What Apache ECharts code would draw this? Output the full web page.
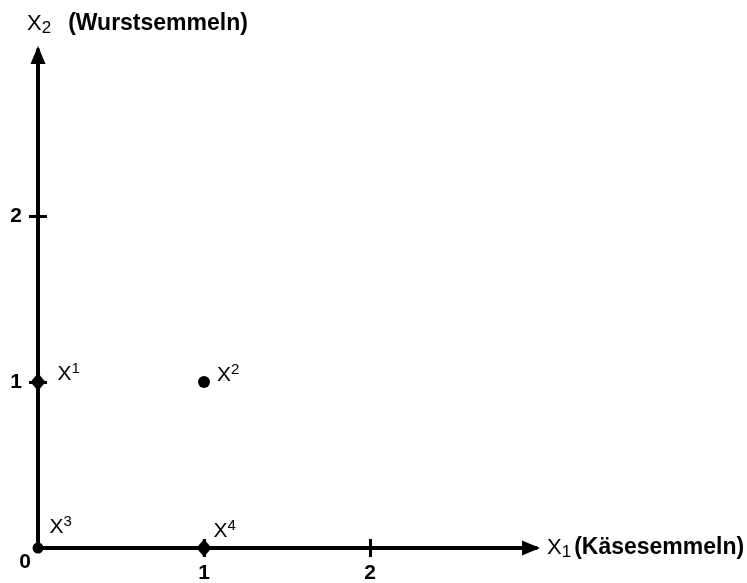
<!DOCTYPE html>
<html><head><meta charset="utf-8">
<script src="https://cdn.jsdelivr.net/npm/echarts@6/dist/echarts.min.js"></script>
<style>html,body{margin:0;padding:0;background:#fff}#c{width:747px;height:583px}</style>
</head><body><div id="c"></div>
<script>
// ---- data ----
const xTickValues = [1, 2];
const yTickValues = [1, 2];
const xLabelValues = [1, 2];
const yLabelValues = [1, 2];
const originLabelValues = [0];
const axisMin = 0;
const axisMax = 3;
const xAxisTitle = ['X', '1', '(Käsesemmeln)'];
const yAxisTitle = ['X', '2', '(Wurstsemmeln)'];
const pointNames = ['X', 'X', 'X', 'X'];
const pointSup = ['1', '2', '3', '4'];
const pointX = [0, 1, 0, 1];
const pointY = [1, 1, 0, 0];
const pointShape = ['diamond', 'circle', 'circle', 'diamond'];

// ---- styles ----
const FONT = '"Liberation Sans", Arial, Helvetica, sans-serif';
const INK = '#000';
const shapeSize = { diamond: [15, 18], circle: 12 };
const labelPlacement = [
  { distance: 12, offset: [0, -9] },
  { distance: 7, offset: [0, -8] },
  { distance: 6, offset: [0, -22] },
  { distance: 2, offset: [0, -18] }
];
const pointRich = {
  x: { fontFamily: FONT, fontSize: 21, color: INK, lineHeight: 24, verticalAlign: 'bottom' },
  s: { fontFamily: FONT, fontSize: 15, color: INK, lineHeight: 24, verticalAlign: 'top' }
};
const nameRich = (gap) => ({
  x: { fontFamily: FONT, fontSize: 22, color: INK, lineHeight: 26, verticalAlign: 'middle' },
  b: { fontFamily: FONT, fontSize: 17, color: INK, lineHeight: 26, verticalAlign: 'bottom' },
  p: { fontFamily: FONT, fontSize: 23, fontWeight: 'bold', color: INK, lineHeight: 26, verticalAlign: 'middle', padding: [0, 0, 0, gap] }
});
const titleText = t => `{x|${t[0]}}{b|${t[1]}}{p|${t[2]}}`;

const data = pointX.map((x, i) => ({
  value: [x, pointY[i]],
  symbol: pointShape[i],
  symbolSize: pointShape[i] === 'circle' && i === 2 ? 11 : shapeSize[pointShape[i]],
  label: {
    show: true,
    position: 'right',
    distance: labelPlacement[i].distance,
    offset: labelPlacement[i].offset,
    formatter: `{x|${pointNames[i]}}{s|${pointSup[i]}}`,
    rich: pointRich
  }
}));

const tickLabelStyle = { fontFamily: FONT, fontSize: 21, fontWeight: 'bold', color: INK };

const chart = echarts.init(document.getElementById('c'), null, { renderer: 'canvas' });
chart.setOption({
  animation: false,
  backgroundColor: '#fff',
  grid: { left: 38, right: 211, top: 50, bottom: 35, containLabel: false, outerBoundsMode: 'none' },
  xAxis: [
    {
      type: 'value', position: 'bottom', min: axisMin, max: axisMax, interval: 1,
      name: titleText(xAxisTitle), nameLocation: 'end', nameGap: 11,
      nameTextStyle: { rich: nameRich(3), align: 'left', verticalAlign: 'middle' },
      axisLine: { show: true, symbol: ['none', 'triangle'], symbolSize: [15, 18], symbolOffset: [0, -5],
        lineStyle: { color: INK, width: 4 } },
      axisTick: { show: true, inside: false, length: 9, customValues: xTickValues, lineStyle: { color: INK, width: 3 } },
      axisLabel: { show: true, margin: 15, customValues: xLabelValues, ...tickLabelStyle },
      splitLine: { show: false }
    },
    {
      type: 'value', position: 'bottom', min: axisMin, max: axisMax, interval: 1,
      axisLine: { show: false },
      axisTick: { show: true, inside: true, length: 9, customValues: xTickValues, lineStyle: { color: INK, width: 3 } },
      axisLabel: { show: false },
      splitLine: { show: false }
    }
  ],
  yAxis: [
    {
      type: 'value', position: 'left', min: axisMin, max: axisMax, interval: 1,
      name: titleText(yAxisTitle), nameLocation: 'end', nameGap: 13,
      nameTextStyle: { rich: nameRich(17), align: 'left', verticalAlign: 'bottom', padding: [0, 0, 0, -11] },
      axisLine: { show: true, symbol: ['none', 'triangle'], symbolSize: [15, 18], symbolOffset: [0, -5],
        lineStyle: { color: INK, width: 4 } },
      axisTick: { show: true, inside: false, length: 9, customValues: yTickValues, lineStyle: { color: INK, width: 3 } },
      axisLabel: { show: true, margin: 16, customValues: yLabelValues, ...tickLabelStyle },
      splitLine: { show: false }
    },
    {
      type: 'value', position: 'left', min: axisMin, max: axisMax, interval: 1,
      axisLine: { show: false },
      axisTick: { show: true, inside: true, length: 9, customValues: yTickValues, lineStyle: { color: INK, width: 3 } },
      axisLabel: {
        show: true, margin: 7, customValues: originLabelValues,
        formatter: v => `{z|${v}}`,
        rich: { z: { ...tickLabelStyle, padding: [28, 0, 0, 0] } }
      },
      splitLine: { show: false }
    }
  ],
  series: [{
    type: 'scatter',
    xAxisIndex: 0, yAxisIndex: 0,
    itemStyle: { color: INK, opacity: 1 },
    emphasis: { disabled: true },
    z: 5,
    data: data
  }]
});
</script>
</body></html>
